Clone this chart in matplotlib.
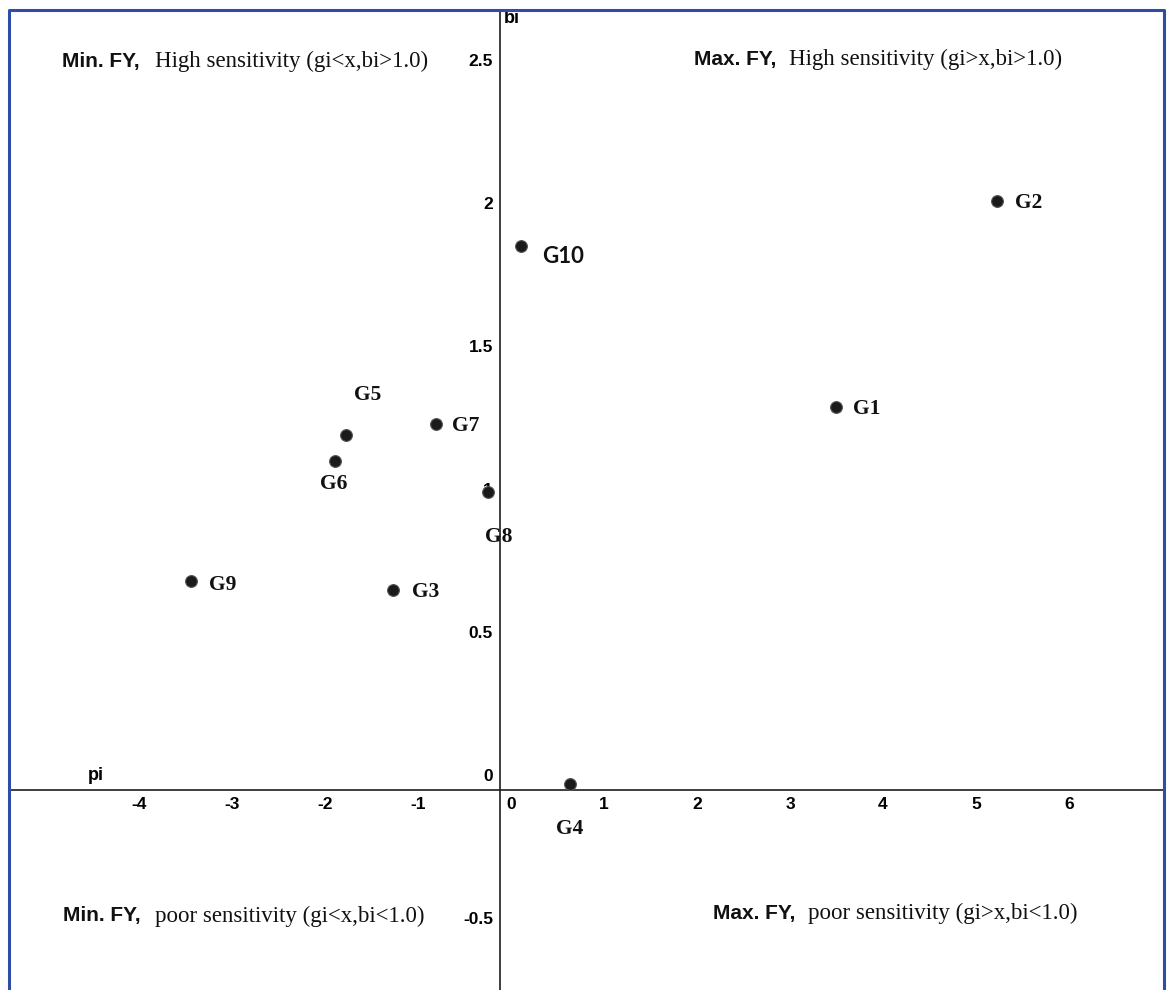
import matplotlib.pyplot as plt
import matplotlib.transforms as mtransforms
from matplotlib.lines import Line2D

# genotype scatter: pi (x) against bi (y)
genotypes = ["G1", "G2", "G3", "G4", "G5", "G6", "G7", "G8", "G9", "G10"]
pi_vals = [3.61, 5.35, -1.15, 0.75, -1.66, -1.77, -0.69, -0.13, -3.32, 0.23]
bi_vals = [1.34, 2.06, 0.70, 0.02, 1.24, 1.15, 1.28, 1.04, 0.73, 1.90]

x_ticks = [-4, -3, -2, -1, 0, 1, 2, 3, 4, 5, 6]
x_tick_labels = ["-4", "-3", "-2", "-1", "0", "1", "2", "3", "4", "5", "6"]
y_ticks = [-0.5, 0, 0.5, 1, 1.5, 2, 2.5]
y_tick_labels = ["-0.5", "0", "0.5", "1", "1.5", "2", "2.5"]

# label offsets in pixels (dx right, dy down) and alignment
label_offsets = {
    "G1": (17, 2, "left"), "G2": (18, 2, "left"), "G3": (19, 2, "left"),
    "G4": (0, 45, "center"), "G5": (22, -40, "center"), "G6": (-2, 23, "center"),
    "G7": (16, 2, "left"), "G8": (11, 45, "center"), "G9": (18, 4, "left"),
    "G10": (21, 10, "left"),
}

W, H = 1172, 990
fig = plt.figure(figsize=(W / 100, H / 100), dpi=100)
ax_l, ax_r, ax_t, ax_b = 10, 1163, 10, 990
ax = fig.add_axes([ax_l / W, 1 - ax_b / H, (ax_r - ax_l) / W, (ax_b - ax_t) / H])

ax.set_xlim(-5.27, 7.13)
ax.set_ylim(-0.70, 2.727)

for s in ["top", "right"]:
    ax.spines[s].set_visible(False)
ax.spines["left"].set_position(("data", 0))
ax.spines["bottom"].set_position(("data", 0))
for s in ["left", "bottom"]:
    ax.spines[s].set_color("#1e1e1e")
    ax.spines[s].set_linewidth(1.2)

tick_font = dict(fontfamily=["Liberation Sans Narrow", "Liberation Sans"],
                 fontweight="bold", fontsize=12.5)
ax.set_xticks(x_ticks)
ax.set_xticklabels(x_tick_labels, **tick_font)
ax.set_yticks(y_ticks)
ax.set_yticklabels(y_tick_labels, **tick_font)
ax.tick_params(axis="both", length=0)
ax.tick_params(axis="x", pad=5)
ax.tick_params(axis="y", pad=5)

xoff = mtransforms.ScaledTranslation(11 / 100, 0, fig.dpi_scale_trans)
for lab in ax.get_xticklabels():
    lab.set_transform(lab.get_transform() + xoff)
yoff = mtransforms.ScaledTranslation(0, 15 / 100, fig.dpi_scale_trans)
for lab in ax.get_yticklabels():
    lab.set_transform(lab.get_transform() + yoff)

ax.scatter(pi_vals, bi_vals, s=72, color="#1a1a1a", edgecolors="#555555",
           linewidths=0.8, zorder=5)

for g, x, y in zip(genotypes, pi_vals, bi_vals):
    dx, dy, ha = label_offsets[g]
    if g == "G10":
        fam, size = "Lato", 16
    else:
        fam, size = "Liberation Serif", 15.5
    ax.annotate(g, (x, y), xytext=(dx * 0.72, -dy * 0.72), textcoords="offset points",
                ha=ha, va="center", fontfamily=fam, fontweight="bold", fontsize=size,
                color="#111111", zorder=6)

# axis names
ax.annotate("bi", (0, 1), xycoords=("data", "axes fraction"), xytext=(3, -6),
            textcoords="offset points", ha="left", va="center",
            fontfamily=["Liberation Sans Narrow", "Liberation Sans"], fontweight="bold", fontsize=13)
ax.annotate("pi", (0, 0), xycoords=("axes fraction", "data"), xytext=(56, 4),
            textcoords="offset points", ha="left", va="bottom",
            fontfamily=["Liberation Sans Narrow", "Liberation Sans"], fontweight="bold", fontsize=13)


def px(xp, yp):
    return (xp - ax_l) / (ax_r - ax_l), (ax_b - yp) / (ax_b - ax_t)


quadrants = [
    ("Min. FY,", "High sensitivity (gi<x,bi>1.0)", (62, 61), (155, 61)),
    ("Max. FY,", "High sensitivity (gi>x,bi>1.0)", (694, 59), (789, 59)),
    ("Min. FY,", "poor sensitivity (gi<x,bi<1.0)", (63, 916), (155, 916)),
    ("Max. FY,", "poor sensitivity (gi>x,bi<1.0)", (713, 913), (808, 913)),
]
for head, body, p1, p2 in quadrants:
    ax.text(*px(*p1), head, transform=ax.transAxes, ha="left", va="center",
            fontfamily="Liberation Sans", fontweight="bold", fontsize=15, color="#111111")
    ax.text(*px(*p2), body, transform=ax.transAxes, ha="left", va="center",
            fontfamily="Liberation Serif", fontsize=16.5, color="#111111")

# blue frame around the chart (bottom edge is cut off)
bx0, bx1, by1 = 9 / W, 1164 / W, 1 - 10 / H
fig.add_artist(Line2D([bx0, bx0, bx1, bx1], [0, by1, by1, 0], transform=fig.transFigure,
                      color="#2f4da6", linewidth=2.2))

fig.savefig("out.png", dpi=100)
